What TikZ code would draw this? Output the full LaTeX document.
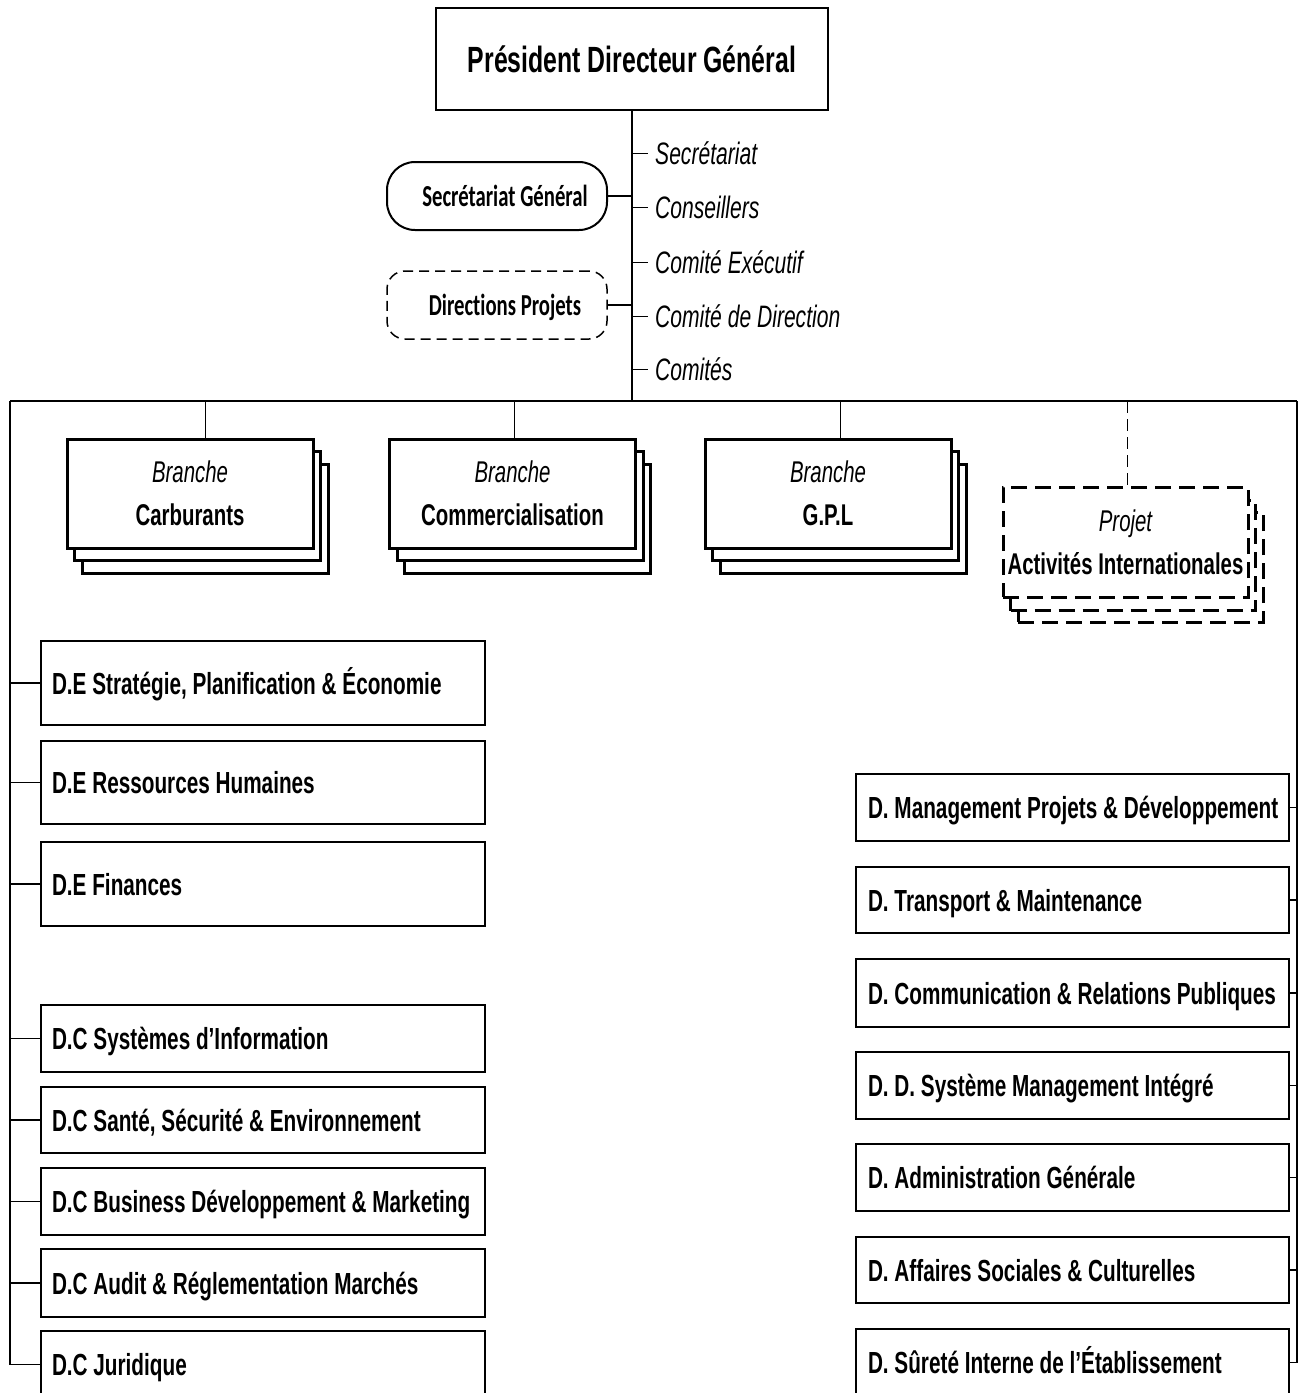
\documentclass[tikz,border=0pt]{standalone}
\usepackage{fontspec}
\setmainfont[FakeStretch=0.68]{Liberation Sans}
\newfontfamily\sgfont[FakeStretch=0.68,Ligatures=NoCommon]{Carlito}
% fixed-width, left-aligned labels inside the direction boxes
\newcommand{\leftlbl}[1]{\makebox[422pt][l]{#1}}
\newcommand{\rightlbl}[1]{\makebox[409pt][l]{#1}}

\begin{document}
\begin{tikzpicture}[x=1pt,y=-1pt,
  box/.style={draw=black, line width=2pt, fill=white, rectangle, inner sep=0pt},
  ldir/.style={box, minimum width=444pt, inner xsep=11pt, text height=22pt, text depth=0pt,
    font=\fontsize{30.5}{36}\selectfont\bfseries},
  rdir/.style={box, minimum width=433pt, inner xsep=12pt, text height=22pt, text depth=0pt,
    font=\fontsize{30.5}{36}\selectfont\bfseries},
  brbox/.style={box, line width=3pt, minimum width=246pt, minimum height=109pt, align=center,
    font=\fontsize{30}{43}\selectfont\bfseries},
  prjbox/.style={brbox, dash pattern=on 16pt off 8pt, minimum width=245pt, minimum height=110pt},
  lbl/.style={anchor=west, inner xsep=7pt, inner ysep=0pt, text height=22.2pt, text depth=0pt,
    font=\fontsize{31}{36}\selectfont\itshape},
  conn/.style={line width=1.3pt},
  thinconn/.style={line width=1pt},
]
\useasboundingbox (0,0) rectangle (1302,1393);
\clip (0,0) rectangle (1302,1393);
\fill[white] (0,0) rectangle (1302,1393);

% --- top management ---
\node[box, minimum width=392pt, minimum height=102pt, font=\fontsize{36.5}{44}\selectfont\bfseries]
  (pdg) at (632,59) {Président Directeur Général};

\coordinate (hub)  at (632,401);
\coordinate (barL) at (10,401);
\coordinate (barR) at (1297,401);

\draw[line width=2pt] (pdg.south) -- (hub);
\draw[line width=2.5pt] (barL) -- (barR);

% staff functions
\node[lbl] (l1) at (648,153) {Secrétariat};
\node[lbl] (l2) at (648,207) {Conseillers};
\node[lbl] (l3) at (648,262) {Comité Exécutif};
\node[lbl] (l4) at (648,316) {Comité de Direction};
\node[lbl] (l5) at (648,369) {Comités};
\foreach \n in {l1,l2,l3,l4,l5}
  \draw[thinconn] (pdg.south |- \n.west) -- (\n.west);

\node[draw=black, line width=2pt, rounded corners=28pt, minimum width=220pt, minimum height=68pt,
  inner sep=0pt, text height=20pt, text depth=0pt, font=\sgfont\bfseries\fontsize{30.5}{36}\selectfont]
  (sg) at (497,196) {\hspace*{16pt}Secrétariat Général};
\node[draw=black, line width=1.5pt, dash pattern=on 10pt off 6pt, rounded corners=18pt,
  minimum width=220pt, minimum height=68pt, inner sep=0pt, text height=20pt, text depth=0pt,
  font=\sgfont\bfseries\fontsize{30.5}{36}\selectfont]
  (dp) at (497,305) {\hspace*{16pt}Directions Projets};
\draw[line width=1.5pt] (sg.east) -- (sg.east -| pdg.south);
\draw[line width=1.5pt] (dp.east) -- (dp.east -| pdg.south);

% --- branches (stacked boxes) ---
\node[brbox] (carb3) at (205,518.5) {};
\node[brbox] (carb2) at (197.5,506) {};
\node[brbox] (carb) at (190,493.5) {{\mdseries\itshape Branche}\\Carburants};

\node[brbox] (com3) at (527.5,518.5) {};
\node[brbox] (com2) at (520,506) {};
\node[brbox] (com) at (512.5,493.5) {{\mdseries\itshape Branche}\\Commercialisation};

\node[brbox] (gpl3) at (843,518.5) {};
\node[brbox] (gpl2) at (835.5,506) {};
\node[brbox] (gpl) at (828,493.5) {{\mdseries\itshape Branche}\\G.P.L};

\node[prjbox] (prj3) at (1140.5,567) {};
\node[prjbox] (prj2) at (1133,555.5) {};
\node[prjbox] (prj) at (1125.5,542) {{\mdseries\itshape Projet}\\Activités Internationales};

\coordinate (t1) at (205,401);
\coordinate (t2) at (514,401);
\coordinate (t3) at (840,401);
\coordinate (t4) at (1127,401);
\draw[thinconn] (t1) -- (t1 |- carb.north);
\draw[thinconn] (t2) -- (t2 |- com.north);
\draw[thinconn] (t3) -- (t3 |- gpl.north);
\draw[thinconn, dash pattern=on 12pt off 6pt] (t4) -- (t4 |- prj.north);

% --- left column: executive and central directions ---
\node[ldir, minimum height=84pt] (strat) at (263,683)    {\leftlbl{D.E Stratégie, Planification \& Économie}};
\node[ldir, minimum height=83pt] (rh)    at (263,782.5)  {\leftlbl{D.E Ressources Humaines}};
\node[ldir, minimum height=84pt] (fin)   at (263,884)    {\leftlbl{D.E Finances}};
\node[ldir, minimum height=67pt] (si)    at (263,1038.5) {\leftlbl{D.C Systèmes d’Information}};
\node[ldir, minimum height=66pt] (hse)   at (263,1120)   {\leftlbl{D.C Santé, Sécurité \& Environnement}};
\node[ldir, minimum height=67pt] (bdm)   at (263,1201.5) {\leftlbl{D.C Business Développement \& Marketing}};
\node[ldir, minimum height=68pt] (aud)   at (263,1283)   {\leftlbl{D.C Audit \& Réglementation Marchés}};
\node[ldir, minimum height=67pt] (jur)   at (263,1364.5) {\leftlbl{D.C Juridique}};

\draw[line width=1.8pt] (barL) -- (barL |- jur.west);
\foreach \n in {strat,rh,fin,si,hse,bdm,aud,jur}
  \draw[conn] (\n.west) -- (\n.west -| barL);

% --- right column: directions ---
\node[rdir, minimum height=67pt] (mpd) at (1072.5,807.5)  {\rightlbl{D. Management Projets \& Développement}};
\node[rdir, minimum height=66pt] (tm)  at (1072.5,900)    {\rightlbl{D. Transport \& Maintenance}};
\node[rdir, minimum height=68pt] (crp) at (1072.5,993)    {\rightlbl{D. Communication \& Relations Publiques}};
\node[rdir, minimum height=67pt] (smi) at (1072.5,1085.5) {\rightlbl{D. D. Système Management Intégré}};
\node[rdir, minimum height=67pt] (ag)  at (1072.5,1177.5) {\rightlbl{D. Administration Générale}};
\node[rdir, minimum height=66pt] (asc) at (1072.5,1270)   {\rightlbl{D. Affaires Sociales \& Culturelles}};
\node[rdir, minimum height=67pt] (sie) at (1072.5,1362.5) {\rightlbl{D. Sûreté Interne de l’Établissement}};

\draw[line width=1.8pt] (barR) -- (barR |- sie.east);
\foreach \n in {mpd,tm,crp,smi,ag,asc,sie}
  \draw[conn] (\n.east) -- (\n.east -| barR);
\end{tikzpicture}
\end{document}
